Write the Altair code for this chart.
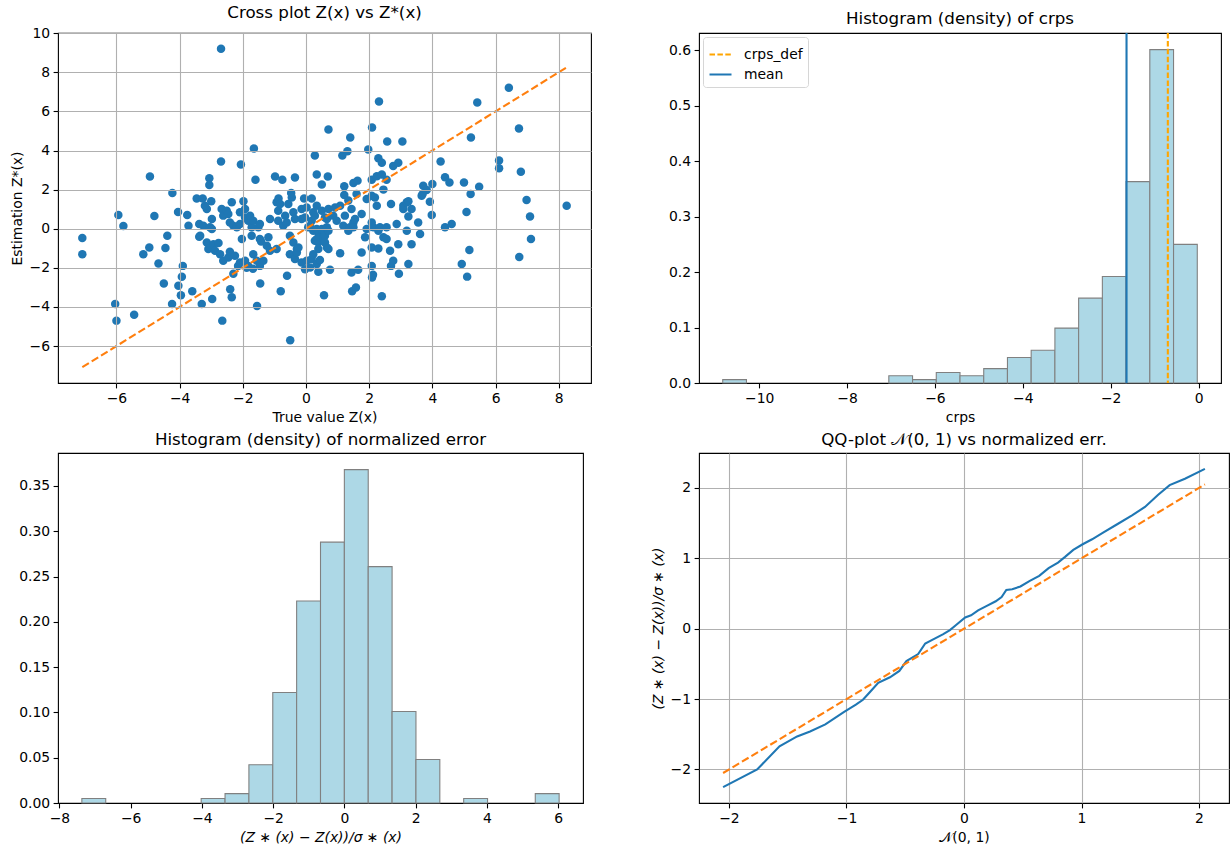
import altair as alt
import pandas as pd

FONT = "DejaVu Sans"

# ---------------- Cross plot data ----------------
true_values = [
    -2.69, -7.08, -7.08, -6.04, -6.0, -5.94, -5.78, -5.44, -5.15, -4.96,
    -4.94, -4.8, -4.67, -4.5, -4.45, -4.39, -4.23, -4.24, -4.05, -4.04,
    -3.93, -3.96, -3.9, -3.76, -3.72, -3.6, -3.46, -3.38, -3.38, -3.3,
    -3.27, -3.25, -3.14, -3.2, -3.06, -3.06, -3.0, -2.98, -2.98, -3.04,
    -2.97, -3.14, -3.09, -2.93, -2.88, -2.77, -2.69, -2.67, -2.62, -2.65,
    -2.72, -2.62, -2.51, -2.46, -2.46, -2.41, -2.41, -2.4, -2.35, -2.35,
    -2.3, -2.3, -2.25, -2.19, -2.15, -2.09, -2.09, -2.09, -2.06, -2.03,
    -1.98, -1.93, -1.93, -1.93, -1.88, -1.83, -1.83, -1.77, -1.72, -1.72,
    -1.67, -1.67, -1.68, -1.65, -1.6, -1.56, -1.55, -1.51, -1.46, -1.46,
    -1.46, -1.45, -1.42, -1.35, -1.24, -1.19, -1.14, -1.14, -0.98, -0.93,
    -0.93, -0.88, -0.88, -0.87, -0.82, -0.8, -0.75, -0.72, -0.66, -0.61,
    -0.6, -0.56, -0.51, -0.51, -0.5, -0.47, -0.45, -0.4, -0.4, -0.35,
    -0.35, -0.35, -0.29, -0.29, -0.24, -0.14, -0.14, -0.14, -0.06, -0.03,
    -0.03, 0.02, 0.02, 0.07, 0.13, 0.13, 0.18, 0.18, 0.18, 0.23,
    0.23, 0.23, 0.28, 0.28, 0.28, 0.34, 0.34, 0.34, 0.34, 0.34,
    0.39, 0.39, 0.39, 0.39, 0.44, 0.44, 0.5, 0.5, 0.5, 0.55,
    0.6, 0.6, 0.57, 0.66, 0.66, 0.66, 0.71, 0.69, 0.71, 0.71,
    0.71, 0.76, 0.6, 0.86, 0.92, 0.97, 1.08, 1.08, 1.15, 1.18,
    1.21, 1.21, 1.23, 1.31, 1.34, 1.34, 1.4, 1.39, 1.44, 1.44,
    1.46, 1.5, 1.5, 1.5, 1.55, 1.58, 1.6, 1.63, 1.65, 1.76,
    1.76, 1.87, 1.92, 1.92, 1.97, 2.08, 2.08, 2.08, 2.08, 2.08,
    2.09, 2.09, 2.12, 2.13, 2.18, 2.24, 2.24, 2.29, 2.29, 2.29,
    2.31, 2.34, 2.4, 2.4, 2.4, 2.45, 2.45, 2.55, 2.55, 2.55,
    2.57, 2.66, 2.69, 2.69, 2.76, 2.76, 2.87, 2.92, 2.92, 2.94,
    3.05, 3.08, 3.08, 3.19, 3.19, 3.24, 3.24, 3.24, 3.34, 3.34,
    3.55, 3.61, 3.66, 3.71, 3.82, 3.92, 3.98, 4.0, 4.26, 4.4,
    4.4, 4.54, 4.61, 4.93, 5.0, 5.08, 5.1, 5.17, 5.21, 5.22,
    5.42, 5.48, 6.11, 6.11, 6.42, 6.74, 6.8, 6.75, 6.98, 7.09,
    7.12, 8.25, 3.69, -3.35,
]
estimated_values = [
    9.2, -0.48, -1.3, -3.85, -4.7, 0.7, 0.14, -4.4, -1.3, -0.96,
    2.67, 0.65, -1.78, -2.8, -0.99, -0.36, 1.83, -3.85, 0.85, -2.92,
    -2.46, -3.4, -1.9, 0.7, 0.15, -3.2, 1.55, 0.24, -0.41, -3.85,
    1.55, 0.15, 1.01, 1.18, 2.58, 2.24, 1.4, 0.5, -0.02, 0.07,
    -3.6, -0.7, -1.04, -0.79, -1.13, -0.73, 3.44, 1.01, 0.67, -4.7,
    -1.3, -1.64, 0.92, 0.75, -1.47, 0.32, -1.18, -3.1, -3.5, 1.35,
    0.15, -2.3, -1.38, 0.07, -1.9, 0.84, 0.24, -1.73, 3.28, -0.53,
    1.4, 1.01, 0.58, -1.64, -2.0, 0.41, -1.9, 0.67, 0.07, -0.36,
    0.41, -1.3, -2.05, 4.1, 2.51, -1.64, -3.95, 0.07, 0.24, -0.53,
    -1.9, -2.8, -0.65, -1.64, -0.87, -0.44, 0.5, -1.13, 2.67, 1.35,
    -1.04, 0.92, 0.41, 1.55, 1.27, -3.2, 2.5, 0.15, 0.67, 0.32,
    -2.4, 1.27, -0.36, -1.3, -5.7, 1.83, 1.6, 0.84, -0.7, 2.62,
    0.5, -1.55, -1.04, -1.21, -0.96, 1.01, 0.5, -1.73, 1.55, 0.58,
    -2.07, 1.09, -1.64, 0.07, 0.15, -1.98, 1.55, 0.41, -1.55, -0.1,
    0.84, -1.3, 3.74, 0.67, -0.62, 2.77, 1.18, -0.02, -0.53, -1.81,
    -0.19, -0.7, -1.04, -2.2, -1.6, -0.44, 2.26, 0.92, -0.02, -0.44,
    -0.36, -0.7, -3.4, 0.5, -0.96, 0.07, 5.08, 2.67, 1.01, -0.1,
    -1.04, -2.1, 0.58, 0.67, 1.09, 0.41, 1.18, -1.25, 3.74, 0.15,
    2.17, 1.73, 0.67, 3.96, 1.44, -0.1, 4.67, 0.07, 1.01, -2.24,
    -3.2, 2.34, 0.32, 0.07, 0.5, -3.0, 1.78, 2.46, -2.1, 0.75,
    -1.21, -0.44, -0.02, 1.52, 4.05, 2.51, 1.69, 0.32, -0.96, -1.9,
    5.18, -2.5, -2.35, 0.07, 1.6, 2.68, 1.18, 3.6, -0.1, -1.01,
    6.51, 0.07, 2.77, 3.38, -3.45, 2.0, -0.44, 2.51, 0.07, -0.53,
    4.46, -1.13, 1.27, -1.9, 3.21, -1.64, 0.24, 3.37, -0.79, -2.3,
    4.46, 1.18, 1.01, 1.35, -0.1, 0.62, -1.81, 1.4, -0.79, 1.01,
    0.32, -0.27, 1.69, 2.2, 1.98, 1.38, 0.7, 2.29, 3.44, 2.63,
    0.07, 2.36, 0.24, -1.81, 2.36, 0.85, -2.45, -1.09, 1.78, 4.67,
    6.45, 2.15, 3.49, 3.09, 7.21, 5.13, 2.91, -1.44, 1.47, 0.62,
    -0.53, 1.18, 1.78, -0.36,
]
diag_cross = [-7.08, 8.25]

# ---------------- CRPS histogram ----------------
crps_edges = [-10.83 + 0.54 * i for i in range(21)]
crps_density = [0.006, 0, 0, 0, 0, 0, 0, 0.013, 0.006, 0.019,
                0.013, 0.026, 0.046, 0.059, 0.099, 0.153, 0.192, 0.363, 0.601, 0.250]
crps_mean = -1.64
crps_def = -0.70

# ---------------- Normalized error histogram ----------------
err_edges = [-7.37 + 0.67 * i for i in range(21)]
err_density = [0.0050, 0, 0, 0, 0, 0.0050, 0.0103, 0.0423, 0.122, 0.223,
               0.288, 0.368, 0.261, 0.101, 0.048, 0, 0.0050, 0, 0, 0.0103]

# ---------------- QQ plot ----------------
qq_theoretical = [-2.05, -1.76, -1.57, -1.42, -1.31, -1.18, -1.02, -0.92, -0.86, -0.8,
                  -0.73, -0.63, -0.55, -0.49, -0.39, -0.33, -0.25, -0.18, -0.12, -0.07,
                  0.01, 0.06, 0.12, 0.19, 0.27, 0.32, 0.36, 0.41, 0.48, 0.56,
                  0.64, 0.72, 0.8, 0.86, 0.93, 1.01, 1.09, 1.18, 1.3, 1.43,
                  1.54, 1.65, 1.75, 1.88, 2.05]
qq_sample = [-2.25, -2.0, -1.67, -1.53, -1.46, -1.36, -1.18, -1.08, -1.01, -0.9,
             -0.77, -0.69, -0.6, -0.46, -0.36, -0.21, -0.14, -0.08, -0.02, 0.05,
             0.16, 0.19, 0.26, 0.32, 0.39, 0.45, 0.55, 0.56, 0.6, 0.68,
             0.75, 0.86, 0.94, 1.02, 1.12, 1.2, 1.27, 1.36, 1.48, 1.61,
             1.73, 1.9, 2.04, 2.13, 2.27]
diag_qq = [-2.05, 2.05]

BLUE = "#1f77b4"
ORANGE = "#ff7f0e"
DASH = [7.7, 3.3]


def ax(title, values, fmt, grid, italic=False, z=0):
    kw = dict(values=values, format=fmt, grid=grid, title=title, zindex=z)
    if italic:
        kw["titleFontStyle"] = "italic"
    return alt.Axis(**kw)


def sc(lo, hi):
    return alt.Scale(domain=[lo, hi], nice=False, zero=False)


# ---- Panel 1: cross plot
df_sc = pd.DataFrame({"t": true_values, "e": estimated_values})
df_d1 = pd.DataFrame({"t": diag_cross, "e": diag_cross})
xs1 = sc(-7.85, 9.02)
ys1 = sc(-7.89, 10.01)
p1_pts = alt.Chart(df_sc).mark_circle(size=72, color=BLUE, opacity=1).encode(
    x=alt.X("t:Q", scale=xs1, axis=ax("True value Z(x)", list(range(-6, 9, 2)), "d", True, z=1)),
    y=alt.Y("e:Q", scale=ys1, axis=ax("Estimation Z*(x)", list(range(-6, 11, 2)), "d", True, z=1)),
)
p1_line = alt.Chart(df_d1).mark_line(color=ORANGE, strokeDash=DASH, strokeWidth=2.1).encode(
    x="t:Q", y="e:Q")
p1 = alt.layer(p1_pts, p1_line).properties(
    width=533, height=350, title="Cross plot Z(x) vs Z*(x)")

# ---- Panel 2: crps histogram
df_crps = pd.DataFrame({"x0": crps_edges[:-1], "x1": crps_edges[1:], "d": crps_density})
df_crps = df_crps[df_crps["d"] > 0]
df_rules = pd.DataFrame({"lab": ["crps_def", "mean"], "v": [crps_def, crps_mean]})
p2_bars = alt.Chart(df_crps).mark_rect(fill="#add8e6", stroke="#808080", strokeWidth=1.1).encode(
    x=alt.X("x0:Q", scale=sc(-11.37, 0.51), axis=ax("crps", list(range(-10, 1, 2)), "d", False)),
    x2="x1:Q",
    y=alt.Y("d:Q", scale=sc(0, 0.631), axis=ax(None, [0, 0.1, 0.2, 0.3, 0.4, 0.5, 0.6], ".1f", False)),
    y2=alt.datum(0),
)
p2_rules = alt.Chart(df_rules).mark_rule(strokeWidth=2.1).encode(
    x="v:Q",
    color=alt.Color("lab:N", scale=alt.Scale(domain=["crps_def", "mean"], range=["#ffa500", BLUE]),
                    legend=alt.Legend(title=None, orient="top-left", offset=4, symbolType="stroke",
                                      symbolSize=484, symbolStrokeWidth=2.1, labelFontSize=13.9,
                                      labelFont=FONT, labelColor="black", labelOffset=11,
                                      rowPadding=0, padding=5, fillColor="white",
                                      strokeColor="#d6d6d6", cornerRadius=3)),
    strokeDash=alt.StrokeDash("lab:N", scale=alt.Scale(domain=["crps_def", "mean"],
                                                       range=[[5.5, 2.4], [1, 0]]),
                              legend=alt.Legend(title=None)),
)
p2 = alt.layer(p2_bars, p2_rules).properties(
    width=522, height=350, title="Histogram (density) of crps")

# ---- Panel 3: normalized error histogram
df_err = pd.DataFrame({"x0": err_edges[:-1], "x1": err_edges[1:], "d": err_density})
df_err = df_err[df_err["d"] > 0]
p3 = alt.Chart(df_err).mark_rect(fill="#add8e6", stroke="#808080", strokeWidth=1.1).encode(
    x=alt.X("x0:Q", scale=sc(-8.04, 6.70),
            axis=ax("(Z ∗ (x) − Z(x))/σ ∗ (x)", list(range(-8, 7, 2)), "d", False, italic=True)),
    x2="x1:Q",
    y=alt.Y("d:Q", scale=sc(0, 0.3864),
            axis=ax(None, [0, 0.05, 0.1, 0.15, 0.2, 0.25, 0.3, 0.35], ".2f", False)),
    y2=alt.datum(0),
).properties(width=525, height=350, title="Histogram (density) of normalized error")

# ---- Panel 4: QQ plot
df_qq = pd.DataFrame({"q": qq_theoretical, "s": qq_sample})
df_d4 = pd.DataFrame({"q": diag_qq, "s": diag_qq})
xs4 = sc(-2.255, 2.255)
ys4 = sc(-2.476, 2.496)
p4_line = alt.Chart(df_qq).mark_line(color=BLUE, strokeWidth=2.1).encode(
    x=alt.X("q:Q", scale=xs4, axis=ax("𝒩(0, 1)", [-2, -1, 0, 1, 2], "d", True)),
    y=alt.Y("s:Q", scale=ys4,
            axis=ax("(Z ∗ (x) − Z(x))/σ ∗ (x)", [-2, -1, 0, 1, 2], "d", True, italic=True)),
)
p4_diag = alt.Chart(df_d4).mark_line(color=ORANGE, strokeDash=DASH, strokeWidth=2.1).encode(
    x="q:Q", y="s:Q")
p4 = alt.layer(p4_line, p4_diag).properties(
    width=530, height=350, title="QQ-plot 𝒩(0, 1) vs normalized err.")

chart = alt.concat(
    p1, p2, p3, p4, columns=2, align="none", bounds="flush",
    spacing=alt.RowColnumber(row=70, column=108),
).resolve_scale(
    color="independent", strokeDash="independent"
).resolve_legend(
    color="independent", strokeDash="independent"
).properties(
    padding={"left": 9, "top": 4, "right": 0, "bottom": 0},
    background="white",
).configure_view(
    stroke="black", strokeWidth=1.1, fill="white"
).configure_axis(
    domain=False, tickColor="black", tickSize=4.9, tickWidth=1.1, labelPadding=3.5,
    labelFont=FONT, labelFontSize=13.9, labelColor="black",
    titleFont=FONT, titleFontSize=13.9, titleFontWeight="normal", titleColor="black",
    gridColor="#b0b0b0", gridWidth=1.1, titlePadding=5,
).configure_title(
    font=FONT, fontSize=16.7, fontWeight="normal", color="black", offset=0, anchor="middle",
)

chart.save("out.html", embed_options={"renderer": "svg", "actions": False})
